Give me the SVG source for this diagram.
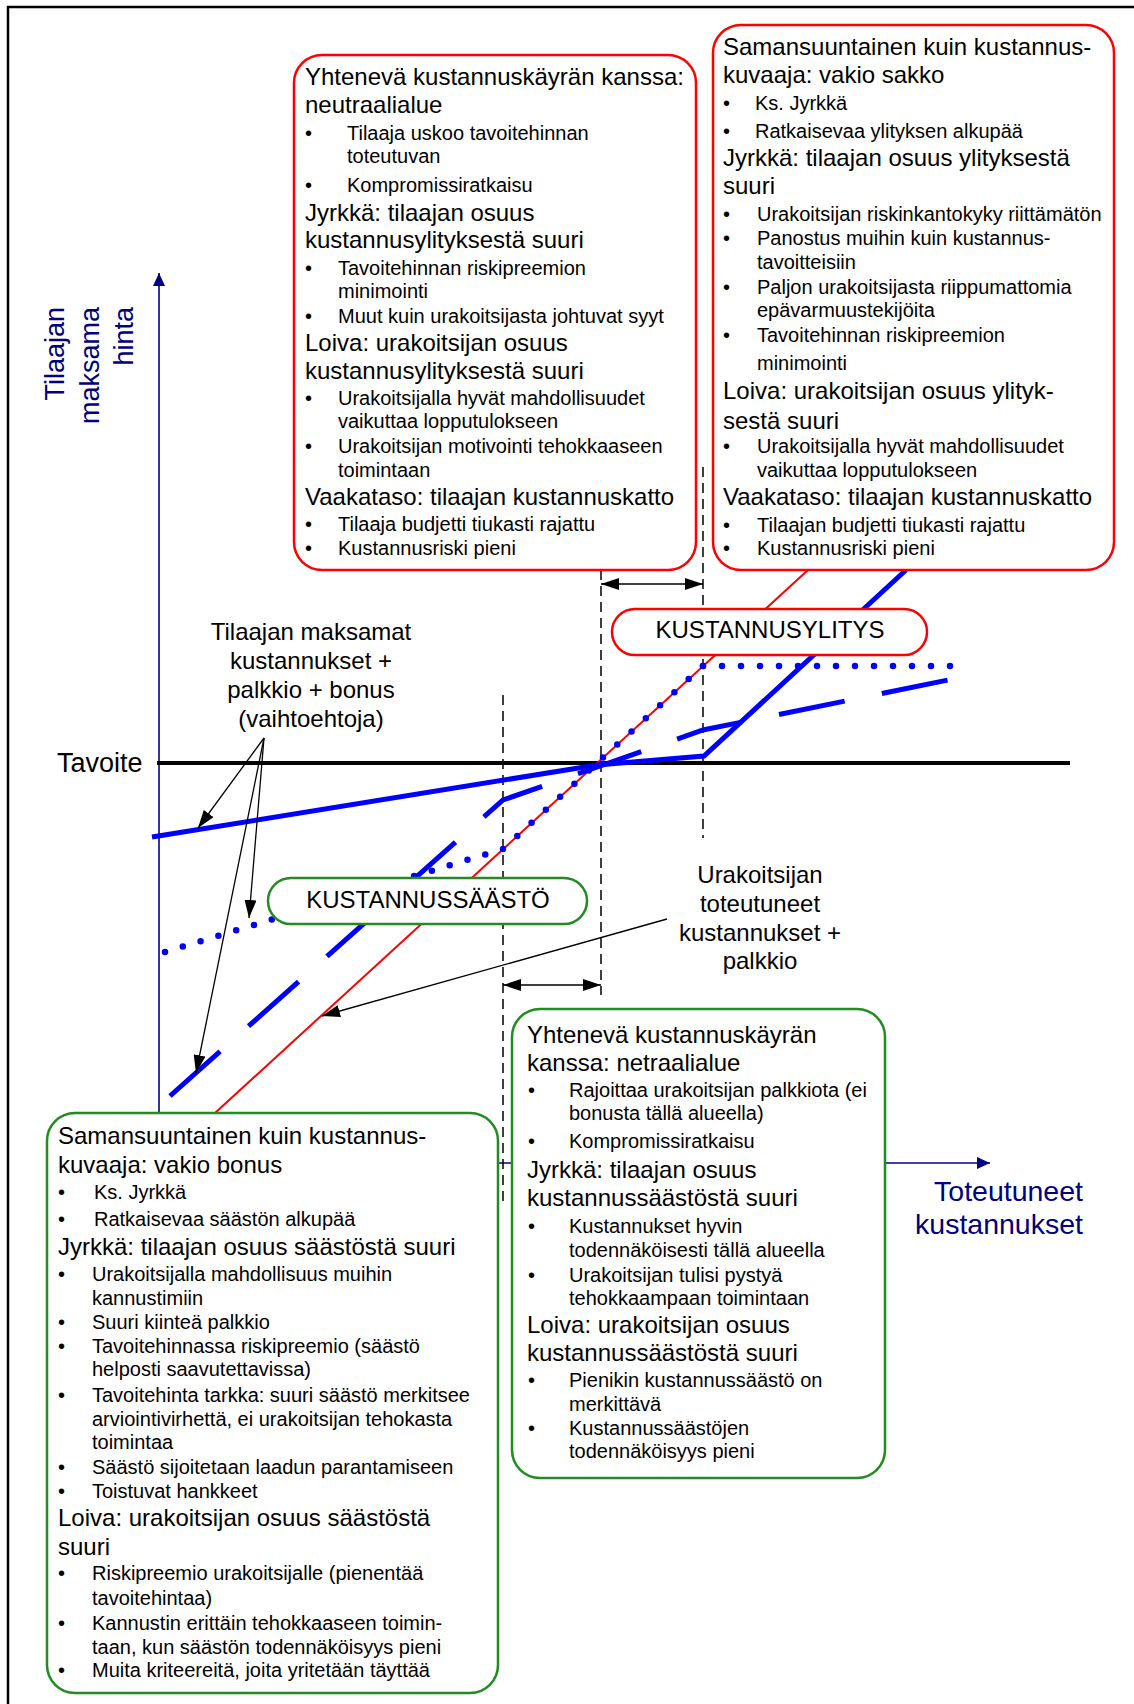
<svg xmlns="http://www.w3.org/2000/svg" width="1134" height="1704" viewBox="0 0 1134 1704">
  <style>
    text { font-family: "Liberation Sans", Arial, sans-serif; fill: #000; }
    .h { font-size: 24px; }
    .b { font-size: 20px; }
    .lbl { font-size: 24px; text-anchor: middle; }
    .ax { font-size: 27px; fill: #000080; }
    .rbox { fill: #fff; stroke: #ff0000; stroke-width: 2.5; }
    .gbox { fill: #fff; stroke: #228b22; stroke-width: 2.5; }
    .vdash { stroke: #000; stroke-width: 1.5; stroke-dasharray: 10 6; fill: none; }
    .thin { stroke: #000; stroke-width: 1.3; fill: none; }
    .blue { stroke: #0000ff; stroke-width: 5; fill: none; }
    .dots { stroke: #0000ff; stroke-width: 6.5; stroke-linecap: round; fill: none; }
  </style>
  <defs>
    <marker id="ah" markerUnits="userSpaceOnUse" markerWidth="18" markerHeight="12" refX="18" refY="6" orient="auto-start-reverse">
      <path d="M0,0 L18,6 L0,12 z" fill="#000"/>
    </marker>
    <marker id="axh" markerUnits="userSpaceOnUse" markerWidth="13" markerHeight="12" refX="13" refY="6" orient="auto">
      <path d="M0,0 L13,6 L0,12 z" fill="#000080"/>
    </marker>
  </defs>

  <rect width="1134" height="1704" fill="#fff"/>
  <!-- frame -->
  <path d="M8,1704 V7 H1134" fill="none" stroke="#000" stroke-width="2.5"/>

  <!-- axes -->
  <g id="axes">
    <line x1="159" y1="1113" x2="159" y2="273" stroke="#000080" stroke-width="1.6" marker-end="url(#axh)"/>
    <line x1="159" y1="1163" x2="990" y2="1163" stroke="#000080" stroke-width="1.6" marker-end="url(#axh)"/>
    <text class="ax" text-anchor="end" transform="translate(64,307) rotate(-90)">Tilaajan</text>
    <text class="ax" text-anchor="end" transform="translate(99,307) rotate(-90)">maksama</text>
    <text class="ax" text-anchor="end" transform="translate(133,307) rotate(-90)">hinta</text>
    <text class="ax" text-anchor="end" x="1083" y="1201" style="font-size:28.5px">Toteutuneet</text>
    <text class="ax" text-anchor="end" x="1083" y="1234" style="font-size:28.5px">kustannukset</text>
    <text x="57" y="772" style="font-size:27px">Tavoite</text>
  </g>

  <!-- curves, guides and pointers -->
  <g id="connectors">
    <line x1="157" y1="763" x2="1070" y2="763" stroke="#000" stroke-width="4"/>
    <line class="vdash" x1="503" y1="695" x2="503" y2="1207"/>
    <line class="vdash" x1="601" y1="570" x2="601" y2="995"/>
    <line class="vdash" x1="703" y1="467" x2="703" y2="838"/>
    <line class="thin" x1="503" y1="985" x2="601" y2="985" marker-start="url(#ah)" marker-end="url(#ah)"/>
    <line class="thin" x1="601" y1="584" x2="703" y2="584" marker-start="url(#ah)" marker-end="url(#ah)"/>
    <!-- realised cost line -->
    <line x1="215" y1="1113" x2="808" y2="570" stroke="#ff0000" stroke-width="2"/>
    <!-- price alternatives -->
    <polyline class="blue" points="152,837 597,765 704,756 906,570"/>
    <polyline class="blue" points="170,1096 503,800 703,730 948,680" stroke-dasharray="67 38"/>
    <line class="dots" x1="165" y1="952" x2="503" y2="849" stroke-dasharray="0 18.6"/>
    <line class="dots" x1="503" y1="849" x2="703" y2="666" stroke-dasharray="0 19.36"/>
    <line class="dots" x1="703" y1="666" x2="951" y2="666" stroke-dasharray="0 19"/>
    <!-- label pointers -->
    <line class="thin" x1="264" y1="738" x2="198" y2="828" marker-end="url(#ah)"/>
    <line class="thin" x1="264" y1="738" x2="249" y2="918" marker-end="url(#ah)"/>
    <line class="thin" x1="264" y1="738" x2="196" y2="1073" marker-end="url(#ah)"/>
    <line class="thin" x1="667" y1="919" x2="322" y2="1016" marker-end="url(#ah)"/>
  </g>

  <g id="label-price">
    <text class="lbl" x="311" y="640">Tilaajan maksamat</text>
    <text class="lbl" x="311" y="669">kustannukset +</text>
    <text class="lbl" x="311" y="698">palkkio + bonus</text>
    <text class="lbl" x="311" y="727">(vaihtoehtoja)</text>
  </g>

  <g id="label-cost">
    <text class="lbl" x="760" y="883">Urakoitsijan</text>
    <text class="lbl" x="760" y="912">toteutuneet</text>
    <text class="lbl" x="760" y="941">kustannukset +</text>
    <text class="lbl" x="760" y="969">palkkio</text>
  </g>

  <g id="tag-ylitys">
    <rect class="rbox" x="612" y="609" width="315" height="46" rx="23"/>
    <text class="lbl" x="770" y="638">KUSTANNUSYLITYS</text>
  </g>

  <g id="tag-saasto">
    <rect class="gbox" x="268" y="878" width="319" height="46" rx="23"/>
    <text class="lbl" x="428" y="908">KUSTANNUSSÄÄSTÖ</text>
  </g>

  <g id="note-ylitys-neutraali">
    <rect class="rbox" x="294" y="55" width="402" height="515" rx="28"/>
    <text class="h" x="305" y="85">Yhtenevä kustannuskäyrän kanssa:</text>
    <text class="h" x="305" y="113">neutraalialue</text>
    <text class="b" y="140"><tspan x="305">•</tspan><tspan x="347">Tilaaja uskoo tavoitehinnan</tspan></text>
    <text class="b" x="347" y="163">toteutuvan</text>
    <text class="b" y="191.5"><tspan x="305">•</tspan><tspan x="347">Kompromissiratkaisu</tspan></text>
    <text class="h" x="305" y="221">Jyrkkä: tilaajan osuus</text>
    <text class="h" x="305" y="248">kustannusylityksestä suuri</text>
    <text class="b" y="275"><tspan x="305">•</tspan><tspan x="338">Tavoitehinnan riskipreemion</tspan></text>
    <text class="b" x="338" y="298">minimointi</text>
    <text class="b" y="323"><tspan x="305">•</tspan><tspan x="338">Muut kuin urakoitsijasta johtuvat syyt</tspan></text>
    <text class="h" x="305" y="351">Loiva: urakoitsijan osuus</text>
    <text class="h" x="305" y="379">kustannusylityksestä suuri</text>
    <text class="b" y="405"><tspan x="305">•</tspan><tspan x="338">Urakoitsijalla hyvät mahdollisuudet</tspan></text>
    <text class="b" x="338" y="428">vaikuttaa lopputulokseen</text>
    <text class="b" y="453"><tspan x="305">•</tspan><tspan x="338">Urakoitsijan motivointi tehokkaaseen</tspan></text>
    <text class="b" x="338" y="477">toimintaan</text>
    <text class="h" x="305" y="505">Vaakataso: tilaajan kustannuskatto</text>
    <text class="b" y="531"><tspan x="305">•</tspan><tspan x="338">Tilaaja budjetti tiukasti rajattu</tspan></text>
    <text class="b" y="555"><tspan x="305">•</tspan><tspan x="338">Kustannusriski pieni</tspan></text>
  </g>

  <g id="note-ylitys-sakko">
    <rect class="rbox" x="713" y="25" width="401" height="545" rx="28"/>
    <text class="h" x="723" y="55">Samansuuntainen kuin kustannus-</text>
    <text class="h" x="723" y="83">kuvaaja: vakio sakko</text>
    <text class="b" y="110"><tspan x="723">•</tspan><tspan x="755">Ks. Jyrkkä</tspan></text>
    <text class="b" y="137.5"><tspan x="723">•</tspan><tspan x="755">Ratkaisevaa ylityksen alkupää</tspan></text>
    <text class="h" x="723" y="166">Jyrkkä: tilaajan osuus ylityksestä</text>
    <text class="h" x="723" y="194">suuri</text>
    <text class="b" y="221"><tspan x="723">•</tspan><tspan x="757">Urakoitsijan riskinkantokyky riittämätön</tspan></text>
    <text class="b" y="245"><tspan x="723">•</tspan><tspan x="757">Panostus muihin kuin kustannus-</tspan></text>
    <text class="b" x="757" y="269">tavoitteisiin</text>
    <text class="b" y="294"><tspan x="723">•</tspan><tspan x="757">Paljon urakoitsijasta riippumattomia</tspan></text>
    <text class="b" x="757" y="317">epävarmuustekijöita</text>
    <text class="b" y="342"><tspan x="723">•</tspan><tspan x="757">Tavoitehinnan riskipreemion</tspan></text>
    <text class="b" x="757" y="370">minimointi</text>
    <text class="h" x="723" y="399">Loiva: urakoitsijan osuus ylityk-</text>
    <text class="h" x="723" y="429">sestä suuri</text>
    <text class="b" y="453"><tspan x="723">•</tspan><tspan x="757">Urakoitsijalla hyvät mahdollisuudet</tspan></text>
    <text class="b" x="757" y="477">vaikuttaa lopputulokseen</text>
    <text class="h" x="723" y="505">Vaakataso: tilaajan kustannuskatto</text>
    <text class="b" y="531.5"><tspan x="723">•</tspan><tspan x="757">Tilaajan budjetti tiukasti rajattu</tspan></text>
    <text class="b" y="555"><tspan x="723">•</tspan><tspan x="757">Kustannusriski pieni</tspan></text>
  </g>

  <g id="note-saasto-bonus">
    <rect class="gbox" x="47" y="1113" width="451" height="580" rx="28"/>
    <text class="h" x="58" y="1144">Samansuuntainen kuin kustannus-</text>
    <text class="h" x="58" y="1173">kuvaaja: vakio bonus</text>
    <text class="b" y="1199"><tspan x="58">•</tspan><tspan x="94">Ks. Jyrkkä</tspan></text>
    <text class="b" y="1226"><tspan x="58">•</tspan><tspan x="94">Ratkaisevaa säästön alkupää</tspan></text>
    <text class="h" x="58" y="1255">Jyrkkä: tilaajan osuus säästöstä suuri</text>
    <text class="b" y="1280.5"><tspan x="58">•</tspan><tspan x="92">Urakoitsijalla mahdollisuus muihin</tspan></text>
    <text class="b" x="92" y="1304.5">kannustimiin</text>
    <text class="b" y="1329"><tspan x="58">•</tspan><tspan x="92">Suuri kiinteä palkkio</tspan></text>
    <text class="b" y="1353"><tspan x="58">•</tspan><tspan x="92">Tavoitehinnassa riskipreemio (säästö</tspan></text>
    <text class="b" x="92" y="1376">helposti saavutettavissa)</text>
    <text class="b" y="1401.5"><tspan x="58">•</tspan><tspan x="92">Tavoitehinta tarkka: suuri säästö merkitsee</tspan></text>
    <text class="b" x="92" y="1426">arviointivirhettä, ei urakoitsijan tehokasta</text>
    <text class="b" x="92" y="1449">toimintaa</text>
    <text class="b" y="1474"><tspan x="58">•</tspan><tspan x="92">Säästö sijoitetaan laadun parantamiseen</tspan></text>
    <text class="b" y="1498"><tspan x="58">•</tspan><tspan x="92">Toistuvat hankkeet</tspan></text>
    <text class="h" x="58" y="1525.5">Loiva: urakoitsijan osuus säästöstä</text>
    <text class="h" x="58" y="1554.5">suuri</text>
    <text class="b" y="1580"><tspan x="58">•</tspan><tspan x="92">Riskipreemio urakoitsijalle (pienentää</tspan></text>
    <text class="b" x="92" y="1604.5">tavoitehintaa)</text>
    <text class="b" y="1630"><tspan x="58">•</tspan><tspan x="92">Kannustin erittäin tehokkaaseen toimin-</tspan></text>
    <text class="b" x="92" y="1654">taan, kun säästön todennäköisyys pieni</text>
    <text class="b" y="1677"><tspan x="58">•</tspan><tspan x="92">Muita kriteereitä, joita yritetään täyttää</tspan></text>
  </g>

  <g id="note-saasto-neutraali">
    <rect class="gbox" x="512" y="1009" width="373" height="469" rx="28"/>
    <text class="h" x="527" y="1043">Yhtenevä kustannuskäyrän</text>
    <text class="h" x="527" y="1071">kanssa: netraalialue</text>
    <text class="b" y="1097"><tspan x="528">•</tspan><tspan x="569">Rajoittaa urakoitsijan palkkiota (ei</tspan></text>
    <text class="b" x="569" y="1120">bonusta tällä alueella)</text>
    <text class="b" y="1148"><tspan x="528">•</tspan><tspan x="569">Kompromissiratkaisu</tspan></text>
    <text class="h" x="527" y="1178">Jyrkkä: tilaajan osuus</text>
    <text class="h" x="527" y="1206">kustannussäästöstä suuri</text>
    <text class="b" y="1233"><tspan x="528">•</tspan><tspan x="569">Kustannukset hyvin</tspan></text>
    <text class="b" x="569" y="1257">todennäköisesti tällä alueella</text>
    <text class="b" y="1282"><tspan x="528">•</tspan><tspan x="569">Urakoitsijan tulisi pystyä</tspan></text>
    <text class="b" x="569" y="1305">tehokkaampaan toimintaan</text>
    <text class="h" x="527" y="1333">Loiva: urakoitsijan osuus</text>
    <text class="h" x="527" y="1361">kustannussäästöstä suuri</text>
    <text class="b" y="1387"><tspan x="528">•</tspan><tspan x="569">Pienikin kustannussäästö on</tspan></text>
    <text class="b" x="569" y="1411">merkittävä</text>
    <text class="b" y="1435"><tspan x="528">•</tspan><tspan x="569">Kustannussäästöjen</tspan></text>
    <text class="b" x="569" y="1458">todennäköisyys pieni</text>
  </g>
</svg>
